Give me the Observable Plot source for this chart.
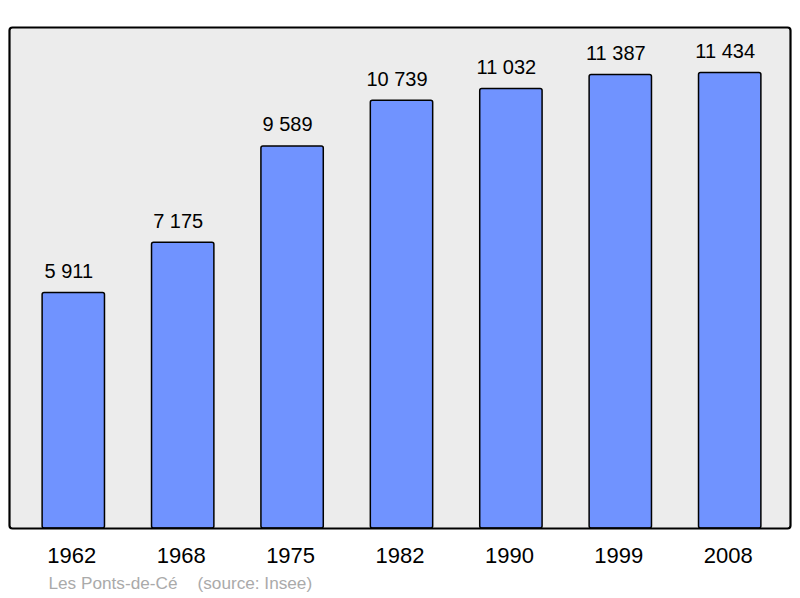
<!DOCTYPE html>
<html>
<head>
<meta charset="utf-8">
<script src="https://cdn.jsdelivr.net/npm/d3@7"></script>
<script src="https://cdn.jsdelivr.net/npm/@observablehq/plot@0.6"></script>
<style>
  html, body { margin: 0; padding: 0; background: #ffffff; }
  #chart svg { display: block; }
</style>
</head>
<body>
<div id="chart"></div>
<script>
const years = ["1962", "1968", "1975", "1982", "1990", "1999", "2008"];
const population = [5911, 7175, 9589, 10739, 11032, 11387, 11434];
const captionPlace = "Les Ponts-de-Cé";
const captionSource = "(source: Insee)";

const data = years.map((year, i) => ({year, value: population[i]}));
const fmt = d3.formatLocale({decimal: ",", thousands: " ", grouping: [3], currency: ["", " €"]}).format(",d");
const font = "'Liberation Sans', Arial, sans-serif";

const chart = Plot.plot({
  width: 800,
  height: 598,
  marginLeft: 9,
  marginRight: 10,
  marginTop: 27,
  marginBottom: 70,
  style: {fontFamily: font, background: "#ffffff", color: "#000"},
  x: {domain: years, range: [18.6, 784.4], paddingInner: 0.43, paddingOuter: 0.215, round: false, label: null},
  y: {domain: [0, 12577], axis: null},
  marks: [
    Plot.frame({fill: "#ececec", stroke: null, rx: 3}),
    Plot.barY(data, {x: "year", y: "value", fill: "#7093ff", stroke: "#000", strokeWidth: 1.5, rx: 2}),
    Plot.frame({stroke: "#000", strokeWidth: 2.2, rx: 3}),
    Plot.text(data, {x: "year", y: "value", text: d => fmt(d.value), dx: -5, dy: -21.5, fontSize: 20, fill: "#000"}),
    Plot.axisX({tickSize: 0, tickPadding: 19, dx: -2, fontSize: 22, fill: "#000", label: null}),
    Plot.text([captionPlace], {frameAnchor: "bottom-left", textAnchor: "start", dx: 39, dy: 60, fontSize: 17.2, fill: "#aaaaaa"}),
    Plot.text([captionSource], {frameAnchor: "bottom-left", textAnchor: "start", dx: 188, dy: 60, fontSize: 17.2, fill: "#aaaaaa"})
  ]
});
document.getElementById("chart").appendChild(chart);
</script>
</body>
</html>
